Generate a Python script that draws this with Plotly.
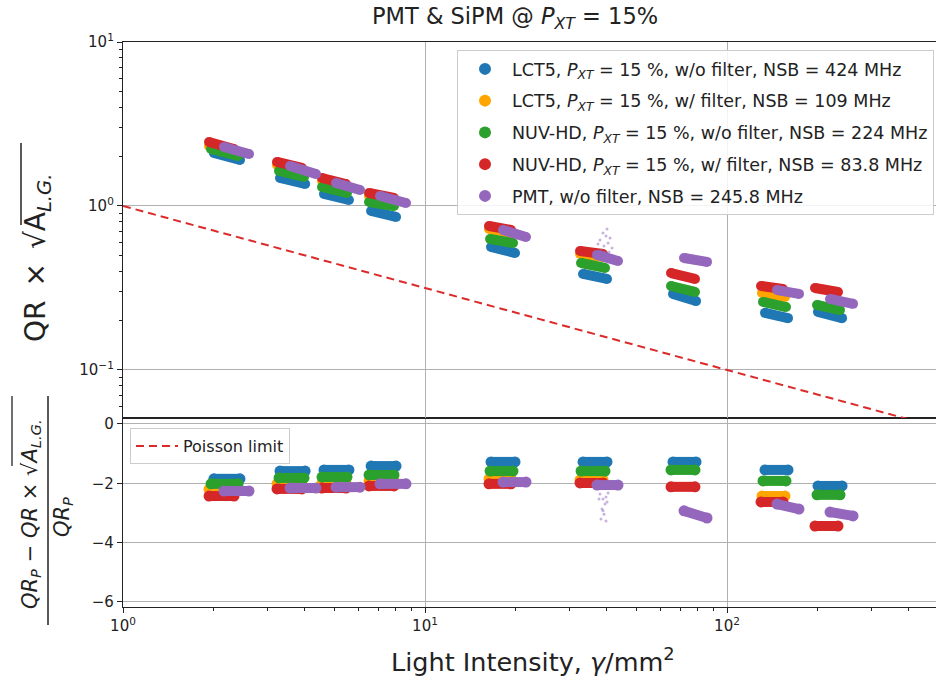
import plotly.graph_objects as go

# ---------------- data ----------------
series_names = [
    "LCT5, <i>P</i><sub><i>XT</i></sub> = 15 %, w/o filter, NSB = 424 MHz",
    "LCT5, <i>P</i><sub><i>XT</i></sub> = 15 %, w/ filter, NSB = 109 MHz",
    "NUV-HD, <i>P</i><sub><i>XT</i></sub> = 15 %, w/o filter, NSB = 224 MHz",
    "NUV-HD, <i>P</i><sub><i>XT</i></sub> = 15 %, w/ filter, NSB = 83.8 MHz",
    "PMT, w/o filter, NSB = 245.8 MHz",
]
series_colors = ["#1f77b4", "#ffa500", "#2ca02c", "#d62728", "#9467bd"]

# light intensity range of each measured cloud (gamma/mm^2), 9 intensity settings
lct5_wo_x_lo = [2.00, 3.31, 4.63, 6.63, 16.54, 33.36, 66.26, 133.6, 200.1]
lct5_wo_x_hi = [2.44, 4.01, 5.60, 8.02, 19.86, 40.06, 78.97, 159.2, 240.4]
lct5_wo_qr_lo = [2.104, 1.481, 1.184, 0.932, 0.562, 0.385, 0.291, 0.223, 0.226]
lct5_wo_qr_hi = [1.907, 1.362, 1.088, 0.857, 0.517, 0.359, 0.263, 0.207, 0.207]
lct5_wo_dev_lo = [-1.85, -1.59, -1.55, -1.42, -1.28, -1.28, -1.28, -1.55, -2.09]
lct5_wo_dev_hi = [-1.85, -1.59, -1.55, -1.42, -1.28, -1.28, -1.28, -1.55, -2.09]

lct5_w_x_lo = [1.927, 3.236, 4.560, 6.526, 16.29, 32.61, None, 130.6, None]
lct5_w_x_hi = [2.367, 3.914, 5.476, 7.895, 19.27, 38.85, None, 155.6, None]
lct5_w_qr_lo = [2.322, 1.778, 1.420, 1.151, 0.724, 0.510, None, 0.295, None]
lct5_w_qr_hi = [2.104, 1.635, 1.306, 1.073, 0.685, 0.489, None, 0.279, None]
lct5_w_dev_lo = [-2.20, -2.02, -1.99, -1.92, -1.85, -1.89, None, -2.43, None]
lct5_w_dev_hi = [-2.20, -2.02, -1.99, -1.92, -1.85, -1.89, None, -2.43, None]

nuv_wo_x_lo = [1.956, 3.286, 4.560, 6.526, 16.42, 32.86, 65.26, 131.6, 198.6]
nuv_wo_x_hi = [2.404, 3.975, 5.518, 7.895, 19.56, 39.45, 78.34, 156.8, 236.7]
nuv_wo_qr_lo = [2.226, 1.635, 1.306, 1.058, 0.629, 0.449, 0.325, 0.260, 0.249]
nuv_wo_qr_hi = [2.018, 1.502, 1.200, 1.000, 0.595, 0.419, 0.299, 0.242, 0.232]
nuv_wo_dev_lo = [-2.02, -1.82, -1.79, -1.72, -1.59, -1.59, -1.55, -1.92, -2.39]
nuv_wo_dev_hi = [-2.02, -1.82, -1.79, -1.72, -1.59, -1.59, -1.55, -1.92, -2.39]

nuv_w_x_lo = [1.927, 3.236, 4.560, 6.526, 16.29, 32.61, 65.26, 129.6, 195.6]
nuv_w_x_hi = [2.331, 3.914, 5.476, 7.895, 19.27, 38.85, 78.34, 153.2, 233.1]
nuv_w_qr_lo = [2.456, 1.855, 1.481, 1.200, 0.755, 0.532, 0.390, 0.325, 0.316]
nuv_w_qr_hi = [2.226, 1.705, 1.362, 1.119, 0.714, 0.510, 0.359, 0.312, 0.299]
nuv_w_dev_lo = [-2.43, -2.19, -2.16, -2.09, -2.02, -1.99, -2.12, -2.63, -3.44]
nuv_w_dev_hi = [-2.43, -2.19, -2.16, -2.09, -2.02, -1.99, -2.12, -2.63, -3.44]

pmt_x_lo = [2.160, 3.573, 5.075, 7.096, 18.13, 37.11, 72.05, 146.4, 219.3]
pmt_x_hi = [2.614, 4.356, 6.093, 8.651, 21.60, 43.56, 85.86, 173.1, 261.4]
pmt_qr_lo = [2.290, 1.754, 1.381, 1.151, 0.714, 0.503, 0.482, 0.307, 0.271]
pmt_qr_hi = [2.075, 1.567, 1.252, 1.043, 0.647, 0.462, 0.456, 0.291, 0.253]
pmt_dev_lo = [-2.26, -2.16, -2.13, -2.02, -1.96, -2.06, -2.93, -2.70, -2.97]
pmt_dev_hi = [-2.26, -2.16, -2.13, -2.02, -1.96, -2.06, -3.17, -2.87, -3.10]

# scattered PMT outliers at ~38 gamma/mm^2
pmt_out_top_x = [37.97, 38.85, 39.75, 40.37, 40.99, 39.15, 38.26, 40.06, 41.62, 39.45, 37.4, 40.68]
pmt_out_top_y = [0.620, 0.685, 0.656, 0.595, 0.638, 0.570, 0.539, 0.724, 0.554, 0.524, 0.587, 0.524]
pmt_out_bot_x = [37.97, 38.85, 39.45, 38.55, 39.75, 39.15, 38.26, 40.06, 38.85, 39.75, 37.69, 40.37]
pmt_out_bot_y = [-2.36, -2.53, -2.70, -2.87, -2.46, -3.04, -3.20, -2.63, -2.93, -3.27, -2.53, -2.33]

poisson_x = [1.0, 500.0]
poisson_y = [1.0, 0.0447]

x_ticks = [1, 10, 100]
x_ticktext = ["10<sup>0</sup>", "10<sup>1</sup>", "10<sup>2</sup>"]
qr_ticks = [0.1, 1, 10]
qr_ticktext = ["10<sup>\u22121</sup>", "10<sup>0</sup>", "10<sup>1</sup>"]
dev_ticks = [0, -2, -4, -6]
dev_ticktext = ["0", "\u22122", "\u22124", "\u22126"]

series = [
    (lct5_wo_x_lo, lct5_wo_x_hi, lct5_wo_qr_lo, lct5_wo_qr_hi, lct5_wo_dev_lo, lct5_wo_dev_hi),
    (lct5_w_x_lo, lct5_w_x_hi, lct5_w_qr_lo, lct5_w_qr_hi, lct5_w_dev_lo, lct5_w_dev_hi),
    (nuv_wo_x_lo, nuv_wo_x_hi, nuv_wo_qr_lo, nuv_wo_qr_hi, nuv_wo_dev_lo, nuv_wo_dev_hi),
    (nuv_w_x_lo, nuv_w_x_hi, nuv_w_qr_lo, nuv_w_qr_hi, nuv_w_dev_lo, nuv_w_dev_hi),
    (pmt_x_lo, pmt_x_hi, pmt_qr_lo, pmt_qr_hi, pmt_dev_lo, pmt_dev_hi),
]

# ---------------- layout geometry ----------------
W, H = 936, 685
L, R, T, B = 123, 0, 42, 78
PW, PH = W - L - R, H - T - B
SPLIT = (607 - 418) / PH


def px(xp):
    return (xp - L) / PW


def py(yp):
    return (H - B - yp) / PH


def segs(lo, hi):
    out = []
    for a, b in zip(lo, hi):
        if a is None:
            continue
        out += [a, b, None]
    return out


FONT = "DejaVu Sans, Verdana, sans-serif"
fig = go.Figure()

for i, (xlo, xhi, qlo, qhi, dlo, dhi) in enumerate(series):
    c = series_colors[i]
    fig.add_trace(go.Scatter(
        x=segs(xlo, xhi), y=segs(qlo, qhi), mode="lines+markers",
        line=dict(color=c, width=10), marker=dict(color=c, size=10, line=dict(width=0)),
        xaxis="x2", yaxis="y2", showlegend=False, hoverinfo="skip"))
    fig.add_trace(go.Scatter(
        x=segs(xlo, xhi), y=segs(dlo, dhi), mode="lines+markers",
        line=dict(color=c, width=10), marker=dict(color=c, size=11, line=dict(width=0)),
        xaxis="x", yaxis="y", showlegend=False, hoverinfo="skip"))

fig.add_trace(go.Scatter(x=pmt_out_top_x, y=pmt_out_top_y, mode="markers",
                         marker=dict(color=series_colors[4], size=3, opacity=0.5),
                         xaxis="x2", yaxis="y2", showlegend=False, hoverinfo="skip"))
fig.add_trace(go.Scatter(x=pmt_out_bot_x, y=pmt_out_bot_y, mode="markers",
                         marker=dict(color=series_colors[4], size=3, opacity=0.5),
                         xaxis="x", yaxis="y", showlegend=False, hoverinfo="skip"))

fig.add_trace(go.Scatter(x=poisson_x, y=poisson_y, mode="lines", name="Poisson limit",
                         line=dict(color="#dc2a2a", width=2, dash="8px,5px"),
                         xaxis="x2", yaxis="y2", legend="legend2"))

for i, name in enumerate(series_names):
    fig.add_trace(go.Scatter(x=[None], y=[None], mode="markers", name=name,
                             marker=dict(color=series_colors[i], size=10),
                             xaxis="x2", yaxis="y2", legend="legend",
                             legendgroup="g%d" % i))

axis_common = dict(showline=True, linecolor="#222", linewidth=1.3, ticks="outside",
                   ticklen=5, tickwidth=1, tickcolor="#222", showgrid=True,
                   gridcolor="#b0b0b0", gridwidth=1, zeroline=False,
                   tickfont=dict(family=FONT, size=15, color="#222"))
minor_x = [m * 10 ** e for e in range(0, 3) for m in range(2, 10) if m * 10 ** e < 500]
minor_y = [m * 10 ** e for e in range(-2, 1) for m in range(2, 10) if m * 10 ** e > 0.05]

fig.update_layout(
    width=W, height=H, margin=dict(l=L, r=R, t=T, b=B),
    paper_bgcolor="white", plot_bgcolor="white",
    font=dict(family=FONT, color="#222"),
    xaxis=dict(domain=[0, 1], anchor="y", type="log", range=[0, 2.692],
               tickvals=x_ticks, ticktext=x_ticktext, mirror=True,
               minor=dict(tickvals=minor_x, ticks="outside", ticklen=3, tickcolor="#222",
                          showgrid=False),
               **axis_common),
    xaxis2=dict(domain=[0, 1], anchor="y2", type="log", matches="x", range=[0, 2.692],
                tickvals=x_ticks, showticklabels=False, mirror=True,
                **{k: v for k, v in axis_common.items() if k != "ticks"}, ticks=""),
    yaxis=dict(domain=[0, SPLIT], anchor="x", range=[-6.17, 0.2],
               tickvals=dev_ticks, ticktext=dev_ticktext, **axis_common),
    yaxis2=dict(domain=[SPLIT, 1], anchor="x2", type="log", range=[-1.293, 1],
                tickvals=qr_ticks, ticktext=qr_ticktext,
                minor=dict(tickvals=minor_y, ticks="outside", ticklen=3, tickcolor="#222",
                           showgrid=False),
                **axis_common),
    legend=dict(x=px(457), y=py(50), xanchor="left", yanchor="top",
                bgcolor="rgba(255,255,255,0.85)", bordercolor="#cccccc", borderwidth=1,
                font=dict(family=FONT, size=17.5, color="#222"), tracegroupgap=6,
                itemwidth=44, itemsizing="constant"),
    legend2=dict(x=px(130), y=py(428), xanchor="left", yanchor="top",
                 bgcolor="rgba(255,255,255,0.85)", bordercolor="#cccccc", borderwidth=1,
                 font=dict(family=FONT, size=16, color="#222"), itemwidth=42),
    showlegend=True,
)

ann = []
ann.append(dict(text="PMT & SiPM @ <i>P</i><sub><i>XT</i></sub> = 15%", x=px(515), y=py(18),
                xref="paper", yref="paper", showarrow=False, xanchor="center", yanchor="middle",
                font=dict(family=FONT, size=22.5, color="#222")))
ann.append(dict(text="Light Intensity, <i>\u03b3</i>/mm<sup>2</sup>", x=px(533), y=py(660),
                xref="paper", yref="paper", showarrow=False, xanchor="center", yanchor="middle",
                font=dict(family=FONT, size=25.5, color="#222")))
ann.append(dict(text="QR\u2002\u00d7\u2002\u221aA<sub><i>L.G.</i></sub>", x=px(37), y=py(258),
                xref="paper", yref="paper", showarrow=False, textangle=-90,
                xanchor="center", yanchor="middle",
                font=dict(family=FONT, size=28, color="#222")))
ann.append(dict(text="<i>QR</i><sub><i>P</i></sub> \u2212 <i>QR</i> \u00d7 \u221a<i>A</i><sub><i>L.G.</i></sub>",
                x=px(31), y=py(514), xref="paper", yref="paper", showarrow=False, textangle=-90,
                xanchor="center", yanchor="middle",
                font=dict(family=FONT, size=21, color="#222")))
ann.append(dict(text="<i>QR</i><sub><i>P</i></sub>", x=px(63), y=py(517), xref="paper", yref="paper",
                showarrow=False, textangle=-90, xanchor="center", yanchor="middle",
                font=dict(family=FONT, size=21, color="#222")))

shapes = [
    dict(type="line", xref="paper", yref="paper", x0=px(48), x1=px(48), y0=py(396), y1=py(625),
         line=dict(color="#222", width=1.5)),
    dict(type="line", xref="paper", yref="paper", x0=px(21), x1=px(21), y0=py(143), y1=py(225),
         line=dict(color="#222", width=1.5)),
    dict(type="line", xref="paper", yref="paper", x0=px(12), x1=px(12), y0=py(396), y1=py(466),
         line=dict(color="#222", width=1.3)),
]
fig.update_layout(annotations=ann, shapes=shapes)

fig.write_html("out.html")
